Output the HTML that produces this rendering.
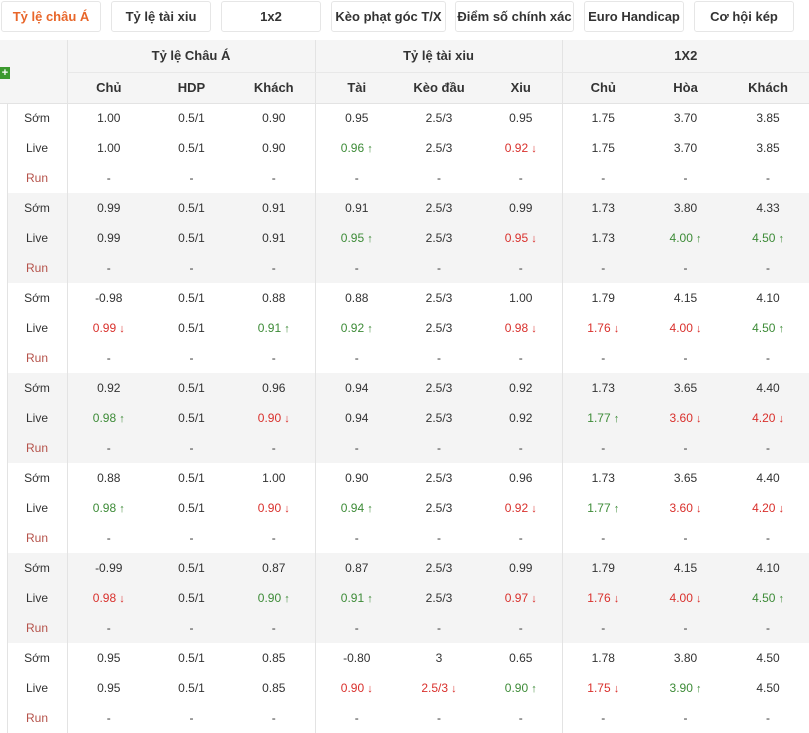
<!DOCTYPE html>
<html><head><meta charset="utf-8"><style>
*{margin:0;padding:0;box-sizing:border-box}
body{width:809px;height:733px;overflow:hidden;background:#fff;font-family:"Liberation Sans","DejaVu Sans",sans-serif;color:#333;font-size:12px;position:relative}
.tab{position:absolute;top:1px;height:31px;border:1px solid #e6e6e6;border-radius:3px;background:#fff;font-weight:bold;font-size:13px;line-height:29px;text-align:center;color:#333}
.tab.on{color:#e8662a}
table{position:absolute;left:0;top:40px;border-collapse:collapse;table-layout:fixed;width:809px}
td,th{text-align:center;padding:0;white-space:nowrap}
th{background:#f5f5f5;font-weight:bold;font-size:13px;color:#333}
tr.h1 th{height:32px;border-bottom:1px solid #e8e8e8}
tr.h2 th{height:31px;border-bottom:1px solid #e3e3e3}
td{height:30px}
.bl{border-left:1px solid #e3e3e3}
tr.g td.d{background:#f4f4f4}
.r{color:#b5524a}
.u{color:#3d8b37}.d2{color:#d9302c}
.u::after{content:" ↑";font-size:11px}
.d2::after{content:" ↓";font-size:11px}
.plus{position:absolute;left:0;top:27px;width:10px;height:12px;background:#3c9a2f;color:#fff;font-size:11px;line-height:12px;text-align:center;font-weight:bold}
</style></head><body>
<div class="tab on" style="left:1px;width:100px">Tỷ lệ châu Á</div>
<div class="tab" style="left:111px;width:100px">Tỷ lệ tài xiu</div>
<div class="tab" style="left:221px;width:100px">1x2</div>
<div class="tab" style="left:331px;width:115px">Kèo phạt góc T/X</div>
<div class="tab" style="left:455px;width:119px">Điểm số chính xác</div>
<div class="tab" style="left:584px;width:100px">Euro Handicap</div>
<div class="tab" style="left:694px;width:100px">Cơ hội kép</div>
<table>
<colgroup><col style="width:7px"><col style="width:60px"><col style="width:83px"><col style="width:83px"><col style="width:82px"><col style="width:83px"><col style="width:82px"><col style="width:82px"><col style="width:82px"><col style="width:83px"><col style="width:82px"></colgroup>
<tr class="h1"><th colspan="2" rowspan="2" style="position:relative;border-bottom:1px solid #e3e3e3"><div class="plus">+</div></th><th colspan="3" class="bl">Tỷ lệ Châu Á</th><th colspan="3" class="bl">Tỷ lệ tài xiu</th><th colspan="3" class="bl">1X2</th></tr>
<tr class="h2"><th class="bl">Chủ</th><th>HDP</th><th>Khách</th><th class="bl">Tài</th><th>Kèo đầu</th><th>Xiu</th><th class="bl">Chủ</th><th>Hòa</th><th>Khách</th></tr>

<tr><td></td><td class="d bl">Sớm</td><td class="d bl">1.00</td><td class="d">0.5/1</td><td class="d">0.90</td><td class="d bl">0.95</td><td class="d">2.5/3</td><td class="d">0.95</td><td class="d bl">1.75</td><td class="d">3.70</td><td class="d">3.85</td></tr>
<tr><td></td><td class="d bl">Live</td><td class="d bl">1.00</td><td class="d">0.5/1</td><td class="d">0.90</td><td class="d bl"><span class="u">0.96</span></td><td class="d">2.5/3</td><td class="d"><span class="d2">0.92</span></td><td class="d bl">1.75</td><td class="d">3.70</td><td class="d">3.85</td></tr>
<tr><td></td><td class="d bl r">Run</td><td class="d bl">-</td><td class="d">-</td><td class="d">-</td><td class="d bl">-</td><td class="d">-</td><td class="d">-</td><td class="d bl">-</td><td class="d">-</td><td class="d">-</td></tr>

<tr class="g"><td></td><td class="d bl">Sớm</td><td class="d bl">0.99</td><td class="d">0.5/1</td><td class="d">0.91</td><td class="d bl">0.91</td><td class="d">2.5/3</td><td class="d">0.99</td><td class="d bl">1.73</td><td class="d">3.80</td><td class="d">4.33</td></tr>
<tr class="g"><td></td><td class="d bl">Live</td><td class="d bl">0.99</td><td class="d">0.5/1</td><td class="d">0.91</td><td class="d bl"><span class="u">0.95</span></td><td class="d">2.5/3</td><td class="d"><span class="d2">0.95</span></td><td class="d bl">1.73</td><td class="d"><span class="u">4.00</span></td><td class="d"><span class="u">4.50</span></td></tr>
<tr class="g"><td></td><td class="d bl r">Run</td><td class="d bl">-</td><td class="d">-</td><td class="d">-</td><td class="d bl">-</td><td class="d">-</td><td class="d">-</td><td class="d bl">-</td><td class="d">-</td><td class="d">-</td></tr>

<tr><td></td><td class="d bl">Sớm</td><td class="d bl">-0.98</td><td class="d">0.5/1</td><td class="d">0.88</td><td class="d bl">0.88</td><td class="d">2.5/3</td><td class="d">1.00</td><td class="d bl">1.79</td><td class="d">4.15</td><td class="d">4.10</td></tr>
<tr><td></td><td class="d bl">Live</td><td class="d bl"><span class="d2">0.99</span></td><td class="d">0.5/1</td><td class="d"><span class="u">0.91</span></td><td class="d bl"><span class="u">0.92</span></td><td class="d">2.5/3</td><td class="d"><span class="d2">0.98</span></td><td class="d bl"><span class="d2">1.76</span></td><td class="d"><span class="d2">4.00</span></td><td class="d"><span class="u">4.50</span></td></tr>
<tr><td></td><td class="d bl r">Run</td><td class="d bl">-</td><td class="d">-</td><td class="d">-</td><td class="d bl">-</td><td class="d">-</td><td class="d">-</td><td class="d bl">-</td><td class="d">-</td><td class="d">-</td></tr>

<tr class="g"><td></td><td class="d bl">Sớm</td><td class="d bl">0.92</td><td class="d">0.5/1</td><td class="d">0.96</td><td class="d bl">0.94</td><td class="d">2.5/3</td><td class="d">0.92</td><td class="d bl">1.73</td><td class="d">3.65</td><td class="d">4.40</td></tr>
<tr class="g"><td></td><td class="d bl">Live</td><td class="d bl"><span class="u">0.98</span></td><td class="d">0.5/1</td><td class="d"><span class="d2">0.90</span></td><td class="d bl">0.94</td><td class="d">2.5/3</td><td class="d">0.92</td><td class="d bl"><span class="u">1.77</span></td><td class="d"><span class="d2">3.60</span></td><td class="d"><span class="d2">4.20</span></td></tr>
<tr class="g"><td></td><td class="d bl r">Run</td><td class="d bl">-</td><td class="d">-</td><td class="d">-</td><td class="d bl">-</td><td class="d">-</td><td class="d">-</td><td class="d bl">-</td><td class="d">-</td><td class="d">-</td></tr>

<tr><td></td><td class="d bl">Sớm</td><td class="d bl">0.88</td><td class="d">0.5/1</td><td class="d">1.00</td><td class="d bl">0.90</td><td class="d">2.5/3</td><td class="d">0.96</td><td class="d bl">1.73</td><td class="d">3.65</td><td class="d">4.40</td></tr>
<tr><td></td><td class="d bl">Live</td><td class="d bl"><span class="u">0.98</span></td><td class="d">0.5/1</td><td class="d"><span class="d2">0.90</span></td><td class="d bl"><span class="u">0.94</span></td><td class="d">2.5/3</td><td class="d"><span class="d2">0.92</span></td><td class="d bl"><span class="u">1.77</span></td><td class="d"><span class="d2">3.60</span></td><td class="d"><span class="d2">4.20</span></td></tr>
<tr><td></td><td class="d bl r">Run</td><td class="d bl">-</td><td class="d">-</td><td class="d">-</td><td class="d bl">-</td><td class="d">-</td><td class="d">-</td><td class="d bl">-</td><td class="d">-</td><td class="d">-</td></tr>

<tr class="g"><td></td><td class="d bl">Sớm</td><td class="d bl">-0.99</td><td class="d">0.5/1</td><td class="d">0.87</td><td class="d bl">0.87</td><td class="d">2.5/3</td><td class="d">0.99</td><td class="d bl">1.79</td><td class="d">4.15</td><td class="d">4.10</td></tr>
<tr class="g"><td></td><td class="d bl">Live</td><td class="d bl"><span class="d2">0.98</span></td><td class="d">0.5/1</td><td class="d"><span class="u">0.90</span></td><td class="d bl"><span class="u">0.91</span></td><td class="d">2.5/3</td><td class="d"><span class="d2">0.97</span></td><td class="d bl"><span class="d2">1.76</span></td><td class="d"><span class="d2">4.00</span></td><td class="d"><span class="u">4.50</span></td></tr>
<tr class="g"><td></td><td class="d bl r">Run</td><td class="d bl">-</td><td class="d">-</td><td class="d">-</td><td class="d bl">-</td><td class="d">-</td><td class="d">-</td><td class="d bl">-</td><td class="d">-</td><td class="d">-</td></tr>

<tr><td></td><td class="d bl">Sớm</td><td class="d bl">0.95</td><td class="d">0.5/1</td><td class="d">0.85</td><td class="d bl">-0.80</td><td class="d">3</td><td class="d">0.65</td><td class="d bl">1.78</td><td class="d">3.80</td><td class="d">4.50</td></tr>
<tr><td></td><td class="d bl">Live</td><td class="d bl">0.95</td><td class="d">0.5/1</td><td class="d">0.85</td><td class="d bl"><span class="d2">0.90</span></td><td class="d"><span class="d2">2.5/3</span></td><td class="d"><span class="u">0.90</span></td><td class="d bl"><span class="d2">1.75</span></td><td class="d"><span class="u">3.90</span></td><td class="d">4.50</td></tr>
<tr><td></td><td class="d bl r">Run</td><td class="d bl">-</td><td class="d">-</td><td class="d">-</td><td class="d bl">-</td><td class="d">-</td><td class="d">-</td><td class="d bl">-</td><td class="d">-</td><td class="d">-</td></tr>
</table>
</body></html>
